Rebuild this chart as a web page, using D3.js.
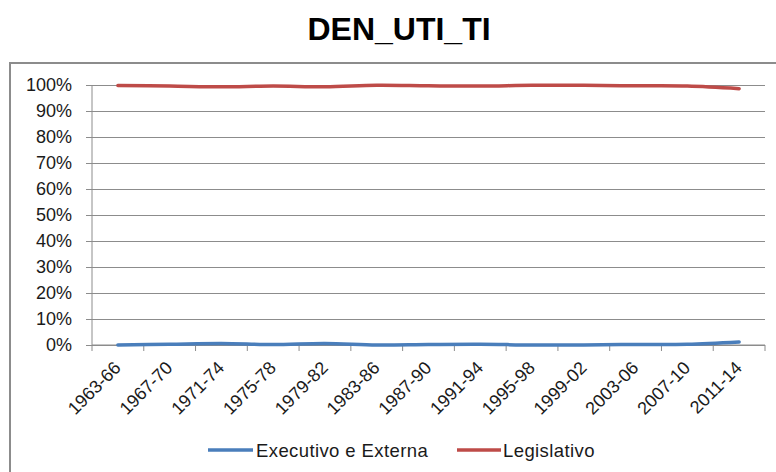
<!DOCTYPE html>
<html>
<head>
<meta charset="utf-8">
<script src="https://cdn.jsdelivr.net/npm/d3@7"></script>
<style>
html, body { margin: 0; padding: 0; background: #fff; }
svg { display: block; }
</style>
</head>
<body>
<svg id="chart" width="776" height="472"></svg>
<script>
const categories = ["1963-66","1967-70","1971-74","1975-78","1979-82","1983-86","1987-90","1991-94","1995-98","1999-02","2003-06","2007-10","2011-14"];
const executivo = [0.0, 0.3, 0.6, 0.2, 0.6, 0.0, 0.2, 0.3, 0.0, 0.0, 0.2, 0.3, 1.2];
const legislativo = [99.8, 99.6, 99.3, 99.6, 99.3, 99.9, 99.7, 99.6, 99.9, 99.9, 99.7, 99.6, 98.6];
const yTicks = [0,10,20,30,40,50,60,70,80,90,100];
const seriesNames = ["Executivo e Externa", "Legislativo"];
const seriesColors = ["#4a7ebb", "#be4b48"];

(function () {
const svg = d3.select("#chart");
const pL = 92, pR = 765, pT = 85, pB = 345;
const font = "Liberation Sans, Arial, sans-serif";

// outer frame
svg.append("rect").attr("x", 10).attr("y", 63).attr("width", 800).attr("height", 450)
  .attr("fill", "none").attr("stroke", "#8c8c8c").attr("stroke-width", 2);

// title
svg.append("text").attr("x", 399).attr("y", 40).attr("text-anchor", "middle")
  .attr("font-family", font).attr("font-weight", "bold")
  .attr("font-size", 32).attr("fill", "#000").text("DEN_UTI_TI");

const x = d3.scaleBand().domain(categories).range([pL, pR]).paddingInner(0).paddingOuter(0);
const y = d3.scaleLinear().domain([0, 100]).range([pB, pT]);

// gridlines + y axis
const yAxis = d3.axisLeft(y).tickValues(yTicks).tickFormat(d => d + "%")
  .tickSize(-(pR - pL)).tickPadding(20);
const gy = svg.append("g").attr("transform", `translate(${pL},0)`).call(yAxis);
gy.select(".domain").remove();
gy.selectAll(".tick line").attr("stroke", "#8c8c8c").attr("x1", -6).attr("x2", pR - pL);
gy.selectAll(".tick text").attr("font-family", font)
  .attr("font-size", 18).attr("fill", "#1a1a1a");

// vertical axis line
svg.append("line").attr("x1", pL).attr("x2", pL).attr("y1", pT).attr("y2", pB)
  .attr("stroke", "#8c8c8c");

// x axis: ticks at category boundaries
const bounds = categories.map(c => x(c)).concat([x(categories[categories.length-1]) + x.bandwidth()]);
svg.append("line").attr("x1", pL).attr("x2", pR).attr("y1", pB).attr("y2", pB)
  .attr("stroke", "#8c8c8c");
svg.append("g").selectAll("line").data(bounds).join("line")
  .attr("x1", d => d).attr("x2", d => d).attr("y1", pB).attr("y2", pB + 6)
  .attr("stroke", "#8c8c8c");

// x labels
svg.append("g").selectAll("text").data(categories).join("text")
  .attr("transform", d => `translate(${x(d) + x.bandwidth()/2 + 4},${pB + 24}) rotate(-45)`)
  .attr("text-anchor", "end")
  .attr("font-family", font).attr("font-size", 18)
  .attr("fill", "#1a1a1a").text(d => d);

// lines
const line = d3.line()
  .x((d, i) => x(categories[i]) + x.bandwidth()/2)
  .y(d => y(d))
  .curve(d3.curveCatmullRom.alpha(0.5));
[executivo, legislativo].forEach((s, i) => {
  svg.append("path").datum(s).attr("d", line).attr("fill", "none")
    .attr("stroke", seriesColors[i]).attr("stroke-width", 3.5).attr("stroke-linecap", "round");
});

// legend
const legendItems = [{x: 208, w: 45, tx: 256}, {x: 457, w: 44, tx: 503}];
legendItems.forEach((it, i) => {
  svg.append("line").attr("x1", it.x).attr("x2", it.x + it.w).attr("y1", 450).attr("y2", 450)
    .attr("stroke", seriesColors[i]).attr("stroke-width", 3.5);
  svg.append("text").attr("x", it.tx).attr("y", 456.5)
    .attr("font-family", font).attr("font-size", 18.5).attr("letter-spacing", 0.4)
    .attr("fill", "#1a1a1a").text(seriesNames[i]);
});
})();
</script>
</body>
</html>
